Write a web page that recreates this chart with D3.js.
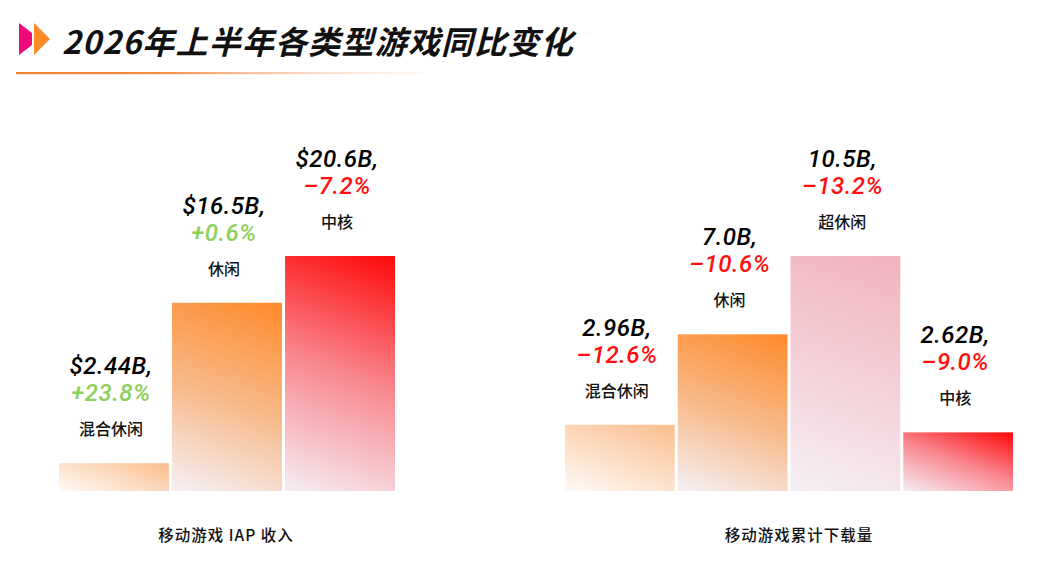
<!DOCTYPE html>
<html>
<head>
<meta charset="utf-8">
<script src="https://cdn.jsdelivr.net/npm/d3@7"></script>
<style>
  html, body { margin: 0; padding: 0; background: #ffffff; }
  svg { display: block; }
</style>
</head>
<body>
<svg id="chart" width="1050" height="575"></svg>
<script>
// ---- data ----
const titleText = "2026年上半年各类型游戏同比变化";

const iapCategories = ["混合休闲", "休闲", "中核"];
const iapValues = [2.44, 16.5, 20.6];
const iapValueLabels = ["$2.44B,", "$16.5B,", "$20.6B,"];
const iapChanges = ["+23.8%", "+0.6%", "-7.2%"];
const iapTitle = "移动游戏 IAP 收入";

const dlCategories = ["混合休闲", "休闲", "超休闲", "中核"];
const dlValues = [2.96, 7.0, 10.5, 2.62];
const dlValueLabels = ["2.96B,", "7.0B,", "10.5B,", "2.62B,"];
const dlChanges = ["-12.6%", "-10.6%", "-13.2%", "-9.0%"];
const dlTitle = "移动游戏累计下载量";

// ---- styles ----
const gradStops = {
  "混合休闲": ["#fbbd8c", "#fcdcc2", "#fffaf6"],
  "休闲": ["#ff8a2a", "#f8b886", "#f5f0f5"],
  "超休闲": ["#f2b3bd", "#f4d0d7", "#f5f0f5"],
  "中核": ["#ff0808", "#f98890", "#f5eef3"]
};
const posColor = "#8dd05c";
const negColor = "#ff0f0f";
const numFont = "Roboto, 'Noto Sans', sans-serif";
const cjkFont = "'Noto Sans CJK SC', 'Noto Sans', sans-serif";
const gradAngle = 20 * Math.PI / 180;

const svg = d3.select("#chart");
const defs = svg.append("defs");

// title line gradient
const lg = defs.append("linearGradient").attr("id", "lineGrad")
  .attr("x1", 0).attr("x2", 1).attr("y1", 0).attr("y2", 0);
lg.append("stop").attr("offset", 0).attr("stop-color", "#ef8233");
lg.append("stop").attr("offset", 0.35).attr("stop-color", "#f08c44");
lg.append("stop").attr("offset", 1).attr("stop-color", "#fbe6da").attr("stop-opacity", 0.3);

// ---- title ----
svg.append("polygon")
  .attr("points", "19,23 32,33 32,45 19,55")
  .attr("fill", "#ee0a78");
svg.append("polygon")
  .attr("points", "34,23 50,39 34,55")
  .attr("fill", "#ff8a2a");
svg.append("text")
  .attr("x", 62).attr("y", 54)
  .attr("font-family", cjkFont)
  .attr("font-size", 32)
  .attr("font-weight", 700)
  .attr("font-style", "italic")
  .attr("letter-spacing", 1.2)
  .attr("fill", "#111")
  .text(titleText);
svg.append("rect")
  .attr("x", 16).attr("y", 72).attr("width", 406).attr("height", 2.2)
  .attr("fill", "url(#lineGrad)");

// ---- panels ----
const baseY = 491, topY = 256;
let gradCount = 0;

function barGradient(cat, bx, by, bw, bh) {
  const id = "bg" + (gradCount++);
  const dx = -Math.sin(gradAngle), dy = Math.cos(gradAngle);
  const half = (bw * Math.sin(gradAngle) + bh * Math.cos(gradAngle)) / 2;
  const cx = bx + bw / 2, cy = by + bh / 2;
  const g = defs.append("linearGradient")
    .attr("id", id)
    .attr("gradientUnits", "userSpaceOnUse")
    .attr("x1", cx - dx * half).attr("y1", cy - dy * half)
    .attr("x2", cx + dx * half).attr("y2", cy + dy * half);
  const cols = gradStops[cat];
  g.append("stop").attr("offset", 0).attr("stop-color", cols[0]);
  g.append("stop").attr("offset", 0.5).attr("stop-color", cols[1]);
  g.append("stop").attr("offset", 1).attr("stop-color", cols[2]);
  return "url(#" + id + ")";
}

function drawPanel(cats, vals, vLabels, changes, title, x0, x1, titleX) {
  const x = d3.scaleBand().domain(cats).range([x0, x1])
    .paddingInner(0.027).paddingOuter(0);
  const y = d3.scaleLinear().domain([0, d3.max(vals)]).range([baseY, topY]);
  const data = cats.map((c, i) => ({ c, v: vals[i], lab: vLabels[i], ch: changes[i] }));
  const g = svg.append("g");

  g.selectAll("rect.bar").data(data).join("rect")
    .attr("class", "bar")
    .attr("x", d => x(d.c))
    .attr("y", d => y(d.v))
    .attr("width", x.bandwidth())
    .attr("height", d => baseY - y(d.v))
    .attr("fill", d => barGradient(d.c, x(d.c), y(d.v), x.bandwidth(), baseY - y(d.v)));

  const cx = d => x(d.c) + x.bandwidth() / 2 - 3;

  g.selectAll("text.val").data(data).join("text")
    .attr("class", "val")
    .attr("x", cx).attr("y", d => y(d.v) - 89)
    .attr("text-anchor", "middle")
    .attr("font-family", numFont)
    .attr("font-style", "italic")
    .attr("font-weight", 500)
    .attr("font-size", 24)
    .attr("letter-spacing", 0.5)
    .attr("fill", "#000")
    .text(d => d.lab);

  g.selectAll("text.chg").data(data).join("text")
    .attr("class", "chg")
    .attr("x", cx).attr("y", d => y(d.v) - 62)
    .attr("text-anchor", "middle")
    .attr("font-family", numFont)
    .attr("font-style", "italic")
    .attr("font-weight", 500)
    .attr("font-size", 24)
    .attr("letter-spacing", 0.5)
    .attr("fill", d => d.ch.startsWith("+") ? posColor : negColor)
    .text(d => d.ch.replace("-", "–"));

  g.selectAll("text.cat").data(data).join("text")
    .attr("class", "cat")
    .attr("x", cx).attr("y", d => y(d.v) - 28)
    .attr("text-anchor", "middle")
    .attr("font-family", cjkFont)
    .attr("font-weight", 500)
    .attr("font-size", 16)
    .attr("fill", "#111")
    .text(d => d.c);

  g.append("text")
    .attr("x", titleX).attr("y", 541)
    .attr("text-anchor", "middle")
    .attr("font-family", cjkFont)
    .attr("font-weight", 500)
    .attr("font-size", 15.5)
    .attr("letter-spacing", 1)
    .attr("fill", "#111")
    .text(title);
}

drawPanel(iapCategories, iapValues, iapValueLabels, iapChanges, iapTitle, 59, 395, 226);
drawPanel(dlCategories, dlValues, dlValueLabels, dlChanges, dlTitle, 565, 1013, 799);
</script>
</body>
</html>
